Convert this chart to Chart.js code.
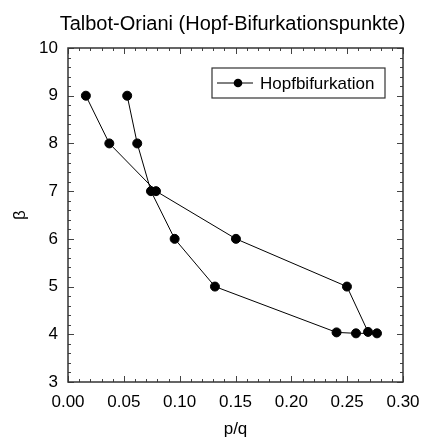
<!DOCTYPE html>
<html>
<head>
<meta charset="utf-8">
<script src="https://cdn.jsdelivr.net/npm/chart.js@4/dist/chart.umd.min.js"></script>
<style>
  html, body { margin: 0; padding: 0; background: #fff; }
  canvas { display: block; }
</style>
</head>
<body>
<canvas id="hopf" width="422" height="443"></canvas>
<script>
// Hopf bifurcation points (p/q vs beta), traced as one closed curve
const pq   = [0.053, 0.062, 0.0743, 0.0955, 0.1316, 0.2405, 0.2579, 0.2767, 0.2687, 0.2498, 0.1504, 0.0788, 0.037, 0.016];
const beta = [9.0,   8.0,   7.0,    6.0,    5.0,    4.04,   4.02,   4.02,   4.05,   5.0,    6.0,    7.0,    8.0,   9.0];

const xTicks = [0, 0.05, 0.10, 0.15, 0.20, 0.25, 0.30];
const yTicks = [3, 4, 5, 6, 7, 8, 9, 10];

const chartTitle = 'Talbot-Oriani (Hopf-Bifurkationspunkte)';
const seriesName = 'Hopfbifurkation';
const FONT = "'Liberation Sans', Arial, sans-serif";

const points = pq.map((x, i) => ({ x, y: beta[i] }));

// title centred (roughly) over the plot area rather than the whole canvas
const plotTitle = {
  id: 'plotTitle',
  afterDraw(chart) {
    const { ctx, chartArea: a } = chart;
    ctx.save();
    ctx.font = '20px ' + FONT;
    ctx.fillStyle = '#000';
    ctx.textAlign = 'center';
    ctx.textBaseline = 'middle';
    ctx.fillText(chartTitle, (a.left + a.right) / 2 - 3, 24);
    ctx.restore();
  }
};

// box around the plot with inward ticks on all four sides
const frameTicks = {
  id: 'frameTicks',
  beforeDatasetsDraw(chart) {
    const { ctx, chartArea: a, scales: { x, y } } = chart;
    ctx.save();
    ctx.strokeStyle = '#444';
    ctx.lineWidth = 1;
    ctx.beginPath();
    for (let v = 0; v <= 30; v++) {
      const px = Math.round(x.getPixelForValue(v / 100)) + 0.5;
      const len = v % 5 === 0 ? 6 : 3;
      ctx.moveTo(px, a.bottom); ctx.lineTo(px, a.bottom - len);
      ctx.moveTo(px, a.top); ctx.lineTo(px, a.top + len);
    }
    for (let v = 15; v <= 50; v++) {
      const py = Math.round(y.getPixelForValue(v / 5)) + 0.5;
      const len = v % 5 === 0 ? 6 : 3;
      ctx.moveTo(a.left, py); ctx.lineTo(a.left + len, py);
      ctx.moveTo(a.right, py); ctx.lineTo(a.right - len, py);
    }
    ctx.stroke();
    ctx.lineWidth = 1.5;
    ctx.strokeStyle = '#333';
    ctx.strokeRect(a.left, a.top, a.right - a.left, a.bottom - a.top);
    ctx.restore();
  }
};

// boxed legend in the upper right corner
const boxLegend = {
  id: 'boxLegend',
  afterDraw(chart) {
    const { ctx, chartArea: a } = chart;
    const bx = a.right - 191, by = a.top + 20, bw = 173, bh = 30;
    const my = by + bh / 2;
    ctx.save();
    ctx.strokeStyle = '#333';
    ctx.lineWidth = 1.2;
    ctx.strokeRect(bx, by, bw, bh);
    ctx.strokeStyle = '#000';
    ctx.lineWidth = 1;
    ctx.beginPath();
    ctx.moveTo(bx + 5, my); ctx.lineTo(bx + 41, my);
    ctx.stroke();
    ctx.fillStyle = '#000';
    ctx.beginPath();
    ctx.arc(bx + 26, my, 4.3, 0, Math.PI * 2);
    ctx.fill();
    ctx.font = '17px ' + FONT;
    ctx.textBaseline = 'middle';
    ctx.fillText(seriesName, bx + 48, my + 1);
    ctx.restore();
  }
};

new Chart(document.getElementById('hopf'), {
  type: 'scatter',
  data: {
    datasets: [{
      label: seriesName,
      data: points,
      showLine: true,
      borderColor: '#000',
      borderWidth: 1,
      backgroundColor: '#000',
      pointRadius: 4.5,
      pointHoverRadius: 4.5,
      tension: 0
    }]
  },
  options: {
    responsive: false,
    animation: false,
    layout: { padding: { left: 0, right: 19, top: 48, bottom: 0 } },
    plugins: {
      legend: { display: false },
      tooltip: { enabled: false },
      title: { display: false }
    },
    scales: {
      x: {
        type: 'linear',
        min: 0, max: 0.3,
        afterBuildTicks: s => { s.ticks = xTicks.map(value => ({ value })); },
        afterFit: s => { s.height = 61; s.paddingLeft = 0; s.paddingRight = 0; },
        grid: { display: false, drawTicks: false },
        border: { display: false },
        ticks: {
          color: '#000',
          font: { family: FONT, size: 17 },
          padding: 10,
          maxRotation: 0,
          callback: v => v.toFixed(2)
        },
        title: {
          display: true,
          text: 'p/q',
          color: '#000',
          font: { family: FONT, size: 17 },
          padding: { top: 0, bottom: 3 }
        }
      },
      y: {
        type: 'linear',
        min: 3, max: 10,
        afterBuildTicks: s => { s.ticks = yTicks.map(value => ({ value })); },
        afterFit: s => { s.width = 68; s.paddingTop = 0; s.paddingBottom = 0; },
        grid: { display: false, drawTicks: false },
        border: { display: false },
        ticks: {
          color: '#000',
          font: { family: FONT, size: 17 },
          padding: 10
        },
        title: {
          display: true,
          text: 'β',
          color: '#000',
          font: { family: FONT, size: 17 },
          padding: { top: 10, bottom: 0 }
        }
      }
    }
  },
  plugins: [frameTicks, boxLegend, plotTitle]
});
</script>
</body>
</html>
